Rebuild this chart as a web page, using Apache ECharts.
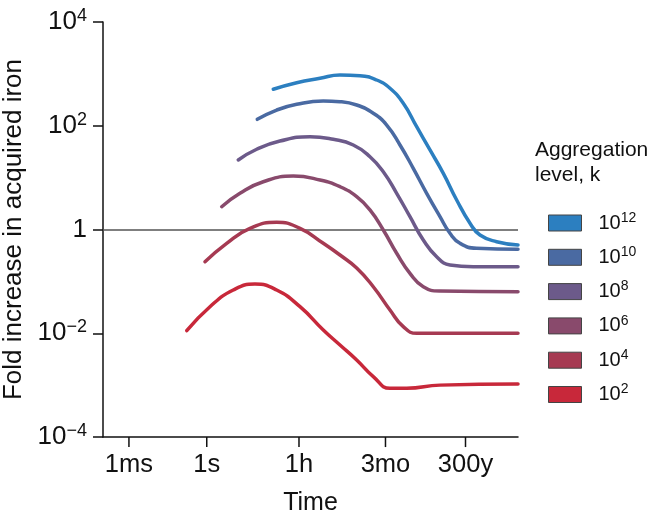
<!DOCTYPE html>
<html>
<head>
<meta charset="utf-8">
<script src="https://cdn.jsdelivr.net/npm/echarts@6/dist/echarts.min.js"></script>
<style>html,body{margin:0;padding:0;background:#fff}#c{width:652px;height:518px}</style>
</head>
<body>
<div id="c"></div>
<script>
// Tick labels
const xTickValues = [1e-3, 1, 3600, 7.776e6, 9.4608e9];
const xTickLabels = ['1ms', '1s', '1h', '3mo', '300y'];

// Series (time in seconds, fold increase)
const seriesNames = ['k12', 'k10', 'k8', 'k6', 'k4', 'k2'];
const seriesExponents = ['12', '10', '8', '6', '4', '2'];
const seriesColors = ['#2c7fc0', '#4a6aa2', '#6c5a8a', '#894a6c', '#a63a52', '#c8283a'];

const t_k12 = [367, 2930, 23200, 1.37e5, 8.07e5, 3.56e6, 1.16e7, 3.78e7, 1.24e8, 4.04e8, 1.32e9, 4.32e9, 1.41e10, 3.42e10, 1.5e11, 1e12];
const v_k12 = [505, 676, 822, 951, 922, 762, 527, 271, 95.9, 34.1, 12.1, 3.71, 1.32, 0.783, 0.582, 0.502];

const t_k10 = [88.7, 497, 2930, 31100, 1.37e5, 6.03e5, 2.63e6, 8.65e6, 2.82e7, 9.16e7, 3.01e8, 9.82e8, 2.38e9, 5.79e9, 2.55e10, 1e12];
const v_k10 = [133, 201, 259, 300, 291, 251, 174, 103, 42.6, 15.1, 4.99, 1.77, 0.845, 0.542, 0.434, 0.415];

const t_k8 = [16.4, 84.1, 665, 9550, 75500, 4.46e5, 1.96e6, 6.4e6, 2.1e7, 6.84e7, 2.23e8, 7.31e8, 2.38e9, 1.88e10, 1e12];
const v_k8 = [21.9, 35.2, 50.8, 61.5, 54.8, 42.6, 25.3, 13.0, 4.99, 1.77, 0.628, 0.299, 0.207, 0.192, 0.192];

const t_k6 = [3.77, 19.1, 151, 2170, 23200, 1.37e5, 6.03e5, 1.96e6, 6.4e6, 2.1e7, 6.84e7, 2.23e8, 9.82e8, 1e12];
const v_k6 = [2.75, 4.99, 8.34, 10.7, 9.0, 6.68, 4.29, 2.38, 0.977, 0.348, 0.143, 0.0789, 0.0652, 0.0632];

const t_k4 = [0.855, 5.87, 46.5, 497, 3940, 31100, 1.37e5, 6.03e5, 2.63e6, 1.16e7, 3.78e7, 1.24e8, 1e12];
const v_k4 = [0.239, 0.542, 1.05, 1.38, 1.05, 0.542, 0.322, 0.181, 0.0789, 0.0281, 0.0134, 0.00998, 0.00998];

const t_k2 = [0.169, 1.33, 10.5, 72.4, 497, 3940, 31100, 1.37e5, 6.03e5, 2.63e6, 1.16e7, 5.11e7, 9.82e8, 1e12];
const v_k2 = [0.0112, 0.0325, 0.0682, 0.0889, 0.0682, 0.0325, 0.01156, 0.00593, 0.00305, 0.00146, 0.000869, 0.000869, 0.001, 0.00105];

const allT = [t_k12, t_k10, t_k8, t_k6, t_k4, t_k2];
const allV = [v_k12, v_k10, v_k8, v_k6, v_k4, v_k2];

const FONT = 'Liberation Sans, Arial, Helvetica, sans-serif';
const INK = '#111';
const X_MIN = 1e-4, Y_MIN = 1e-4;
const X_TICK_END = 6.4e-5; // lower end of the outside x ticks (about 10px below the axis)

const series = seriesNames.map((name, i) => {
  const s = {
    name: name,
    type: 'line',
    data: allT[i].map((t, j) => [t, allV[i][j]]),
    smooth: 0.5,
    showSymbol: false,
    symbol: 'none',
    lineStyle: { color: seriesColors[i], width: 3.5, cap: 'round', join: 'round' },
    itemStyle: { color: seriesColors[i] },
    z: 3
  };
  if (i === 0) {
    s.markLine = {
      silent: true,
      symbol: 'none',
      z: 1,
      label: { show: false },
      lineStyle: { color: '#555', width: 1.5, type: 'solid' },
      data: [{ yAxis: 1 }]
    };
  }
  return s;
});

// outside x tick marks at the non-uniform tick values
xTickValues.forEach((v, i) => {
  series.push({
    name: 'xtick' + i,
    type: 'line',
    silent: true,
    clip: false,
    z: 6,
    symbol: 'none',
    showSymbol: false,
    lineStyle: { color: INK, width: 1.5 },
    data: [[v, Y_MIN], [v, X_TICK_END]]
  });
});

const chart = echarts.init(document.getElementById('c'), null, { renderer: 'canvas' });
chart.setOption({
  animation: false,
  backgroundColor: '#fff',
  title: {
    text: 'Aggregation\nlevel, k',
    left: 535,
    top: 138,
    padding: 0,
    textStyle: { fontFamily: FONT, fontSize: 21, fontWeight: 'normal', color: INK, lineHeight: 25 }
  },
  grid: { left: 103, top: 22, width: 415, height: 415, containLabel: false, outerBoundsMode: 'none' },
  legend: {
    orient: 'vertical',
    left: 548,
    top: 211,
    padding: 0,
    itemWidth: 33,
    itemHeight: 16,
    itemGap: 12.3,
    icon: 'rect',
    itemStyle: { borderColor: '#444', borderWidth: 1 },
    data: seriesNames,
    formatter: (name) => '{b|10}{s|' + seriesExponents[seriesNames.indexOf(name)] + '}',
    textStyle: {
      fontFamily: FONT, color: INK,
      rich: {
        b: { fontFamily: FONT, fontSize: 20, color: INK, padding: [0, 0, 0, 12] },
        s: { fontFamily: FONT, fontSize: 14, color: INK, padding: [0, 0, 10, 0] }
      }
    }
  },
  xAxis: {
    type: 'log',
    logBase: 10,
    min: X_MIN,
    max: 1e12,
    name: 'Time',
    nameLocation: 'middle',
    nameGap: 54,
    nameTextStyle: { fontFamily: FONT, fontSize: 25, color: INK },
    axisLine: { show: true, lineStyle: { color: INK, width: 1.5 } },
    axisTick: { show: false },
    minorTick: { show: false },
    axisLabel: {
      customValues: xTickValues,
      fontFamily: FONT, fontSize: 25.5, color: INK, margin: 15,
      formatter: (v) => {
        let best = 0, bd = Infinity;
        xTickValues.forEach((tv, i) => { const d = Math.abs(Math.log10(v) - Math.log10(tv)); if (d < bd) { bd = d; best = i; } });
        return xTickLabels[best];
      }
    },
    splitLine: { show: false }
  },
  yAxis: {
    type: 'log',
    logBase: 100,
    min: Y_MIN,
    max: 1e4,
    name: 'Fold increase in acquired iron',
    nameLocation: 'middle',
    nameGap: 67,
    nameTextStyle: { fontFamily: FONT, fontSize: 26, color: INK },
    axisLine: { show: true, lineStyle: { color: INK, width: 1.5 } },
    axisTick: { show: true, inside: false, length: 10, lineStyle: { color: INK, width: 1.5 } },
    minorTick: { show: false },
    axisLabel: {
      margin: 16,
      fontFamily: FONT, fontSize: 26, color: INK,
      formatter: (v) => {
        const e = Math.round(Math.log10(v));
        if (e === 0) return '{b|1}';
        return '{b|10}{s|' + (e < 0 ? '\u2212' + (-e) : e) + '}';
      },
      rich: {
        b: { fontFamily: FONT, fontSize: 26, color: INK },
        s: { fontFamily: FONT, fontSize: 18, color: INK, padding: [0, 0, 12, 0] }
      }
    },
    splitLine: { show: false }
  },
  series: series
});
</script>
</body>
</html>
